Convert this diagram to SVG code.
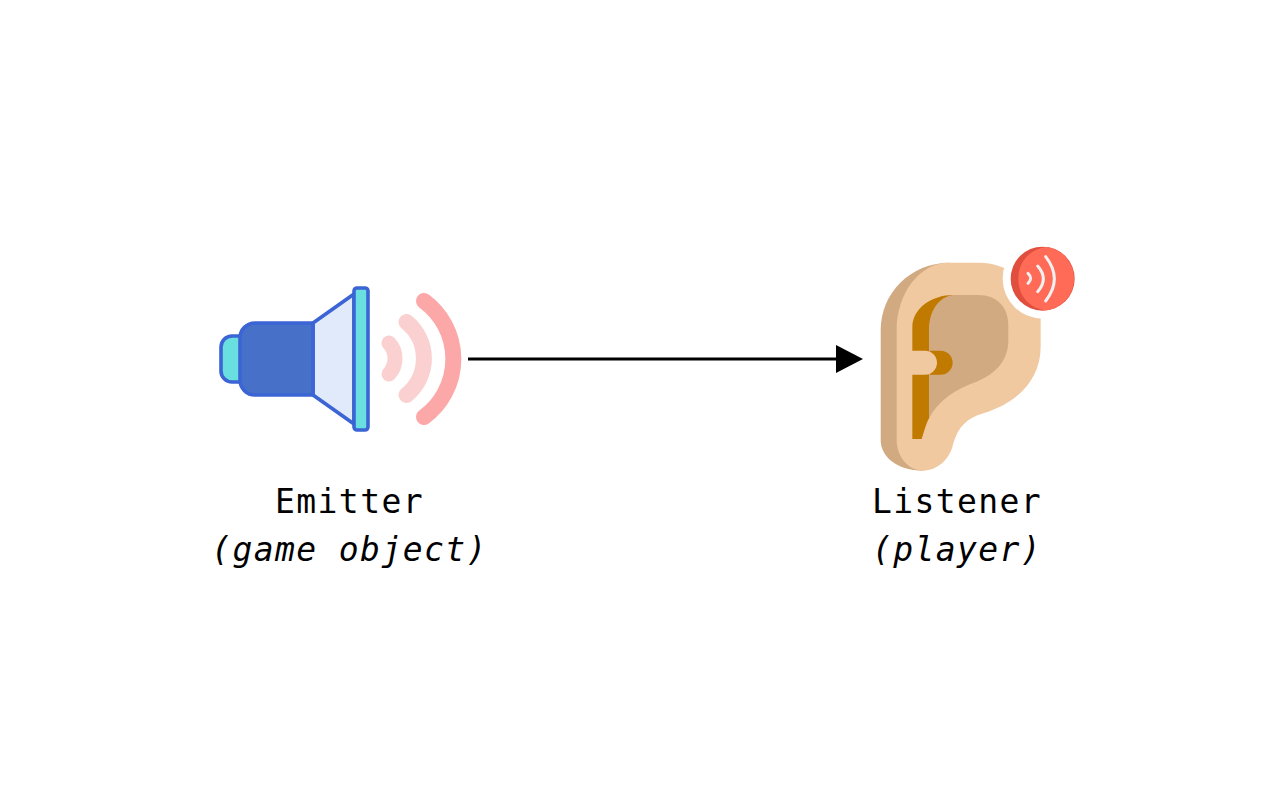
<svg xmlns="http://www.w3.org/2000/svg" width="1280" height="800" viewBox="0 0 1280 800">
<style>
.lbl{font-family:"DejaVu Sans Mono","Liberation Mono",monospace;font-size:33px;letter-spacing:1.4px;fill:#000;text-anchor:middle}
.it{font-style:italic}
.sp{stroke:#3b64d4;stroke-width:3.6;stroke-linejoin:round}
.wave{fill:none;stroke-linecap:round}
.bw{fill:none;stroke:#f0f0f0;stroke-width:9;stroke-linecap:round}
</style>
<defs><marker id="ah" markerUnits="userSpaceOnUse" markerWidth="28" markerHeight="28" refX="0" refY="14" orient="auto"><path d="M0,0 L27,14 L0,28 Z" fill="#000"/></marker></defs>
<rect width="1280" height="800" fill="#fff"/>
<g id="emitter">
<rect class="sp" x="221" y="336" width="30" height="46" rx="11" fill="#6adfdf"/>
<path class="sp" d="M313,323 L354,294 V424 L313,395 Z" fill="#e0eafa"/>
<path class="sp" d="M255,323 H313 V395 H255 A15,15 0 0 1 240,380 V338 A15,15 0 0 1 255,323 Z" fill="#4771c9"/>
<rect class="sp" x="354" y="288" width="14" height="142" rx="3" fill="#6adfdf"/>
<path class="wave" d="M389,343 A23,23 0 0 1 389,374" stroke="#fad0d0" stroke-width="15"/>
<path class="wave" d="M406.500,322 A47,47 0 0 1 406.500,395" stroke="#fad0d0" stroke-width="16"/>
<path class="wave" d="M424,301 A72,72 0 0 1 424,417" stroke="#fca8a8" stroke-width="16"/>
<text class="lbl" x="349.500" y="513">Emitter</text>
<text class="lbl it" x="349.500" y="561">(game object)</text>
</g>
<g id="listener">
<g transform="translate(870 240) scale(.33333)">
<path d="M240,68 C120,68 32,160 32,270 V600 C32,650 80,692 160,692 L200,400 Z" fill="#d2aa82"/>
<path d="M235,68 H330 C400,68 512,120 512,237 V320 C512,420 440,490 340,520 C290,535 265,560 250,610 C240,660 200,692 160,692 C115,692 80,650 80,600 V270 C80,159 150,68 235,68 Z" fill="#f0c9a0"/>
<path d="M250,165 C185,165 127,205 127,262 V597 H155 C162,575 168,552 177,535 L260,300 Z" fill="#c07a00"/>
<path d="M250,165 H325 C380,165 415,200 415,255 V300 C415,360 380,400 320,425 C260,445 205,480 177,535 V270 C177,215 205,170 250,165 Z" fill="#d2aa82"/>
<path d="M180,332 H212 A36,36 0 0 1 212,404 H180 Z" fill="#c07a00"/>
<path d="M120,332 H165 A36,36 0 0 1 165,404 H120 Z" fill="#f0c9a0"/>
<circle cx="518" cy="116" r="120" fill="#fff"/>
<circle cx="518" cy="116" r="96" fill="#e04f3d"/>
<path d="M530,21 A96,96 0 0 1 530,211 C475,205 445,165 445,116 C445,65 480,27 530,21 Z" fill="#ff6b57"/>
<path class="bw" d="M474,100 Q490,115 474,130"/>
<path class="bw" d="M503,78 Q537,116 503,155"/>
<path class="bw" d="M527,50 Q579,116 527,183"/>
</g>
<text class="lbl" x="957" y="513">Listener</text>
<text class="lbl it" x="957" y="561">(player)</text>
</g>
<g id="connectors">
<path d="M468,359 H836" fill="none" stroke="#000" stroke-width="3" marker-end="url(#ah)"/>
</g>
</svg>
